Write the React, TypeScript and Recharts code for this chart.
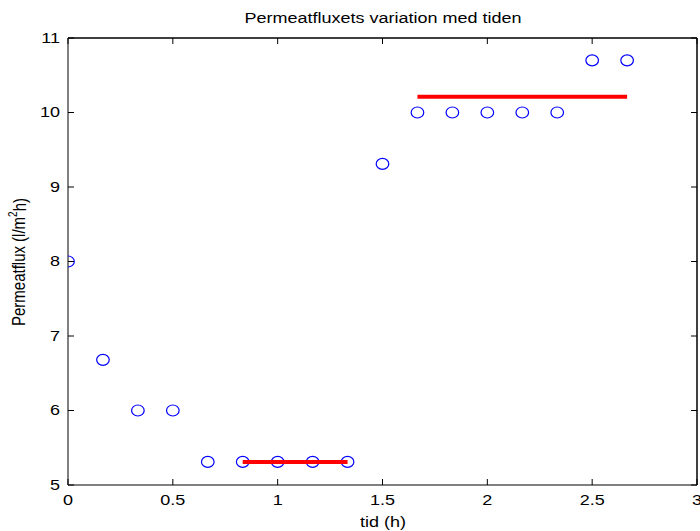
import React from 'react';
import { ScatterChart, Scatter, XAxis, YAxis, ReferenceLine } from 'recharts';

const timeH = [0, 0.1667, 0.3333, 0.5, 0.6667, 0.8333, 1.0, 1.1667, 1.3333, 1.5, 1.6667, 1.8333, 2.0, 2.1667, 2.3333, 2.5, 2.6667];
const flux = [8.0, 6.68, 6.0, 6.0, 5.31, 5.31, 5.31, 5.31, 5.31, 9.31, 10.0, 10.0, 10.0, 10.0, 10.0, 10.7, 10.7];

const lowMeanX = [0.8333, 1.3333];
const lowMeanY = [5.31, 5.31];
const highMeanX = [1.6667, 2.6667];
const highMeanY = [10.21, 10.21];

const xTicks = [0, 0.5, 1, 1.5, 2, 2.5, 3];
const yTicks = [5, 6, 7, 8, 9, 10, 11];
const X_MAX = 3;
const Y_MAX = 11;

const points = timeH.map((x, i) => ({ x, y: flux[i] }));
const lowLine = lowMeanX.map((x, i) => ({ x, y: lowMeanY[i] }));
const highLine = highMeanX.map((x, i) => ({ x, y: highMeanY[i] }));

const FONT = '"Liberation Sans", Arial, Helvetica, sans-serif';
const TL = 6;
const SX = 1.2;

const T = ({ x, y, anchor = 'middle', size = 15, children }: any) => (
  <text transform={`translate(${x} ${y}) scale(${SX} 1)`} x={0} y={0} textAnchor={anchor}
    dominantBaseline="central" fontFamily={FONT} fontSize={size} fill="#000">
    {children}
  </text>
);

const XTickBottom = (p: any) => (
  <g>
    <line x1={p.x} x2={p.x} y1={p.y} y2={p.y - TL} stroke="#000" />
    <T x={p.x} y={p.y + 15}>{String(p.payload.value)}</T>
  </g>
);
const XTickTop = (p: any) => (
  <line x1={p.x} x2={p.x} y1={p.y} y2={p.y + TL} stroke="#000" />
);
const YTickLeft = (p: any) => (
  <g>
    <line x1={p.x} x2={p.x + TL} y1={p.y} y2={p.y} stroke="#000" />
    <T x={p.x - 8} y={p.y} anchor="end">{String(p.payload.value)}</T>
  </g>
);
const YTickRight = (p: any) => (
  <line x1={p.x} x2={p.x - TL} y1={p.y} y2={p.y} stroke="#000" />
);

const Ring = (p: any) => (
  <ellipse cx={p.cx} cy={p.cy} rx={6.3} ry={5.5} fill="none" stroke="#0000ff" strokeWidth={1.2} />
);
const Nothing = () => <g />;

export default function App() {
  return (
    <div style={{ position: 'absolute', left: 0, top: 0, width: 700, height: 531, background: '#fff' }}>
      <ScatterChart width={700} height={531} margin={{ top: 37, right: 2, bottom: 16, left: 28 }}>
        <XAxis xAxisId="b" type="number" dataKey="x" domain={[0, 3]} ticks={xTicks} interval={0}
          orientation="bottom" height={30} tickSize={0} tickMargin={0} tickLine={false}
          axisLine={{ stroke: '#000' }} tick={<XTickBottom />} allowDataOverflow />
        <XAxis xAxisId="t" type="number" dataKey="x" domain={[0, 3]} ticks={xTicks} interval={0}
          orientation="top" height={1} tickSize={0} tickMargin={0} tickLine={false}
          axisLine={{ stroke: '#000' }} tick={<XTickTop />} allowDataOverflow />
        <YAxis yAxisId="l" type="number" dataKey="y" domain={[5, 11]} ticks={yTicks} interval={0}
          orientation="left" width={40} tickSize={0} tickMargin={0} tickLine={false}
          axisLine={{ stroke: '#000' }} tick={<YTickLeft />} allowDataOverflow />
        <YAxis yAxisId="r" type="number" dataKey="y" domain={[5, 11]} ticks={yTicks} interval={0}
          orientation="right" width={1} tickSize={0} tickMargin={0} tickLine={false}
          axisLine={{ stroke: '#000' }} tick={<YTickRight />} allowDataOverflow />
        <ReferenceLine xAxisId="b" yAxisId="l" x={X_MAX} stroke="#000" ifOverflow="visible" />
        <ReferenceLine xAxisId="b" yAxisId="l" y={Y_MAX} stroke="#000" ifOverflow="visible" />
        <Scatter xAxisId="t" yAxisId="r" data={points} shape={Nothing} isAnimationActive={false} />
        <Scatter xAxisId="b" yAxisId="l" data={points} shape={Ring} isAnimationActive={false} />
        <Scatter xAxisId="b" yAxisId="l" data={lowLine} line={{ stroke: '#ff0000', strokeWidth: 4 }}
          lineType="joint" shape={Nothing} isAnimationActive={false} />
        <Scatter xAxisId="b" yAxisId="l" data={highLine} line={{ stroke: '#ff0000', strokeWidth: 4 }}
          lineType="joint" shape={Nothing} isAnimationActive={false} />
        <T x={383} y={18} size={15}>Permeatfluxets variation med tiden</T>
        <T x={383} y={522}>tid (h)</T>
        <text transform="translate(19 262) rotate(-90) scale(1 1.2)" x={0} y={0} textAnchor="middle"
          dominantBaseline="central" fontFamily={FONT} fontSize={15} fill="#000">
          Permeatflux (l/m<tspan dy={-5} fontSize={10}>2</tspan><tspan dy={5}>h)</tspan>
        </text>
      </ScatterChart>
    </div>
  );
}
